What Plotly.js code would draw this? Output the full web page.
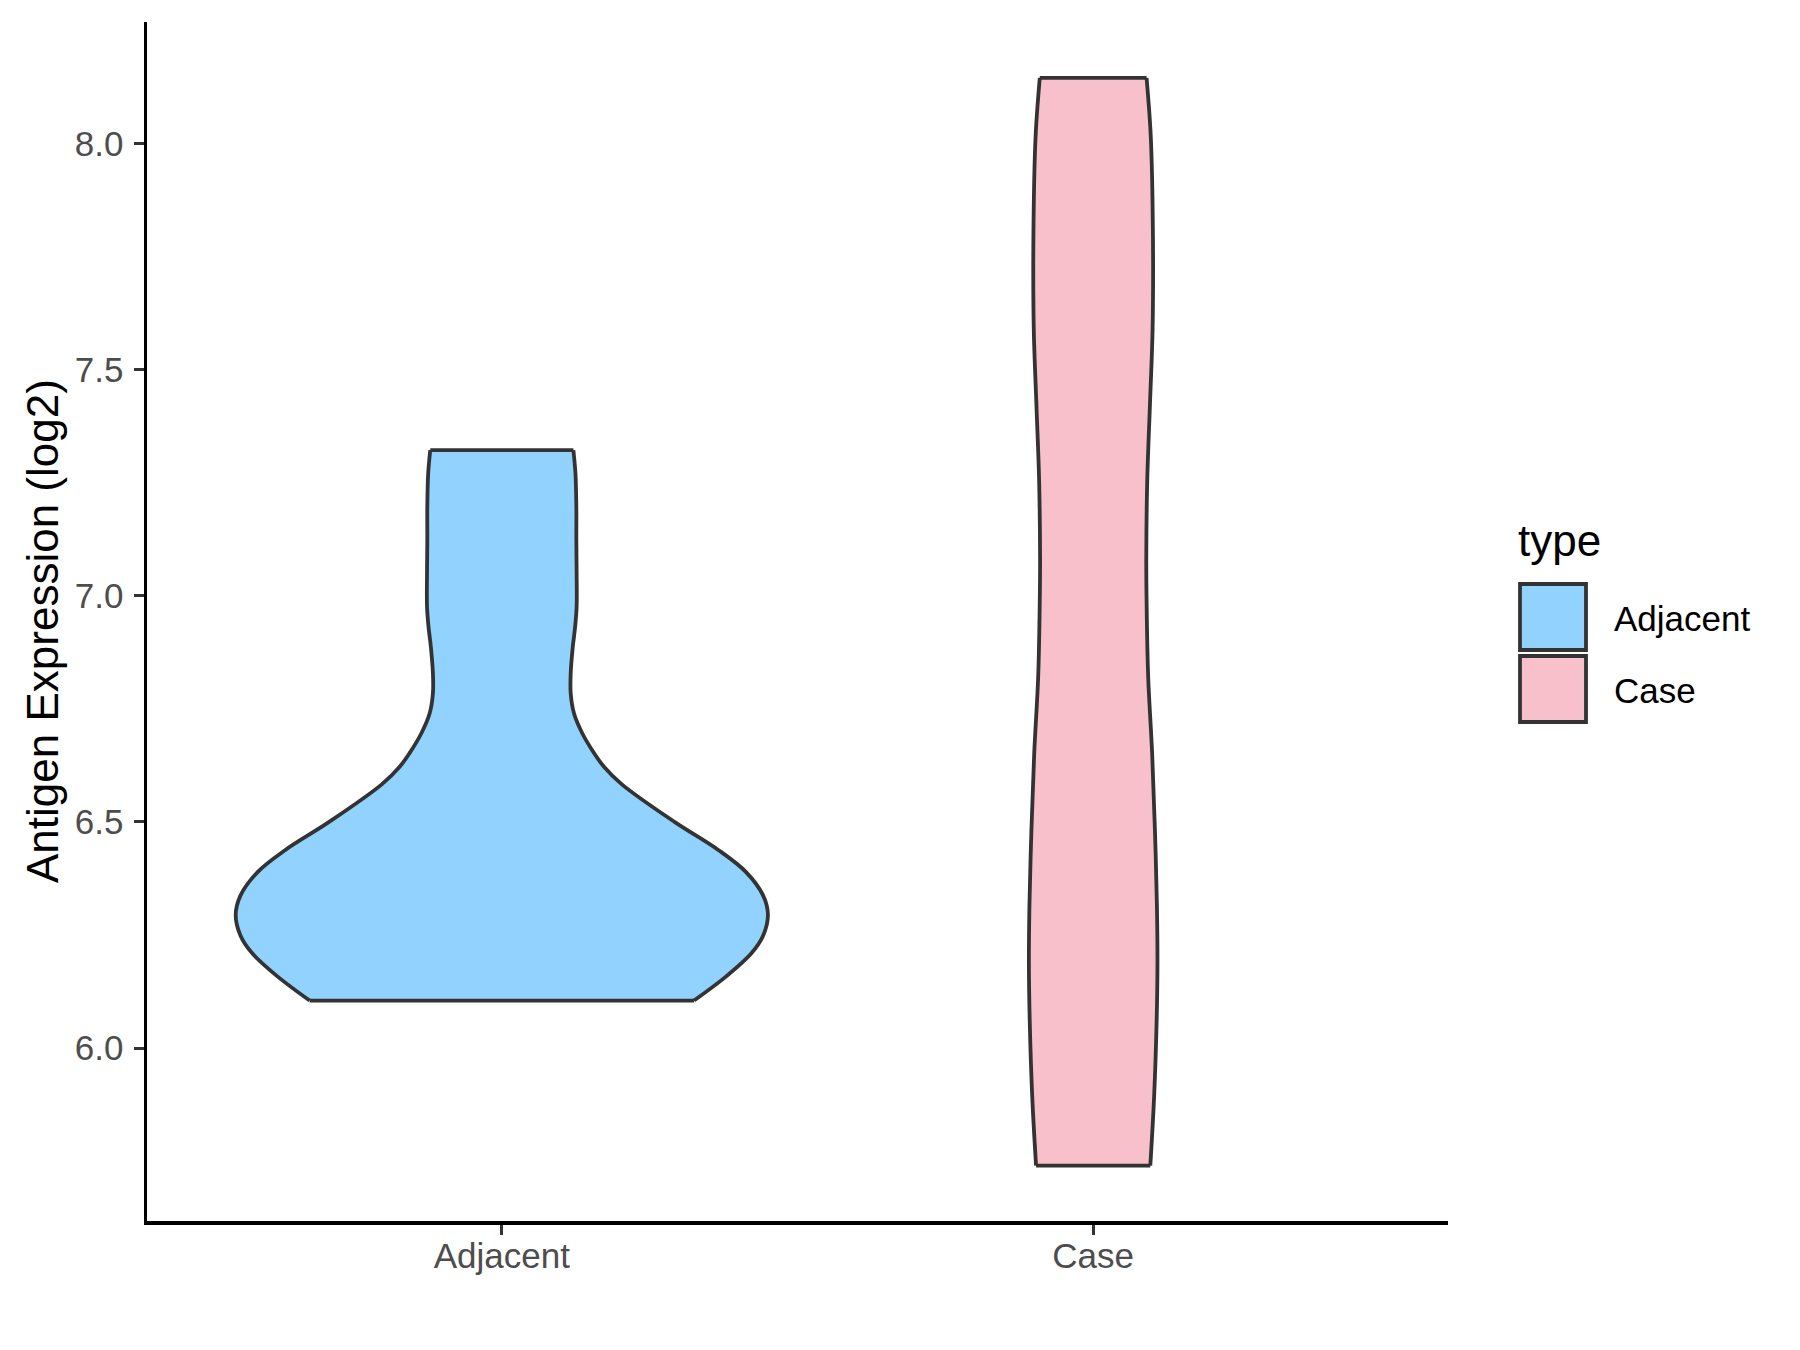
<!DOCTYPE html>
<html>
<head>
<meta charset="utf-8">
<script src="https://cdn.plot.ly/plotly-3.0.1.min.js"></script>
<style>
  html, body { margin: 0; padding: 0; background: #ffffff; }
  #chart { width: 1800px; height: 1350px; }
</style>
</head>
<body>
<div id="chart"></div>
<script>
// ---- data ----
const categories = ['Adjacent', 'Case'];

// Adjacent violin: expression levels and half-widths (density, in category units)
const adjY  = [6.105, 6.159, 6.21, 6.249, 6.294, 6.337, 6.389, 6.438, 6.50, 6.583, 6.622, 6.652, 6.696, 6.74, 6.784, 6.829, 6.887, 6.932, 6.976, 7.05, 7.123, 7.197, 7.271, 7.322];
const adjHW = [0.325, 0.380, 0.4224, 0.442, 0.450, 0.442, 0.413, 0.366, 0.292, 0.203, 0.1727, 0.156, 0.136, 0.122, 0.1165, 0.1165, 0.120, 0.124, 0.1265, 0.1265, 0.126, 0.126, 0.1245, 0.121];

// Case violin
const caseY  = [5.74, 5.891, 6.06, 6.187, 6.314, 6.483, 6.652, 6.821, 6.99, 7.085, 7.254, 7.423, 7.592, 7.804, 8.015, 8.145];
const caseHW = [0.0966, 0.103, 0.1073, 0.1087, 0.1078, 0.1044, 0.0997, 0.093, 0.0903, 0.0898, 0.0914, 0.096, 0.1005, 0.101, 0.0974, 0.0903];

const yTickVals = [6.0, 6.5, 7.0, 7.5, 8.0];
const yTitle = 'Antigen Expression (log2)';
const legendTitle = 'type';

// ---- styles ----
const fillColors = ['#92D2FE', '#F7C0CB'];
const outline = '#333333';
const font = 'Arial, "Liberation Sans", Helvetica, sans-serif';

const series = [
  {y: adjY, hw: adjHW},
  {y: caseY, hw: caseHW}
];

const traces = [];
series.forEach((s, i) => {
  const n = s.y.length;
  traces.push({
    x: s.y.map((v, k) => i - s.hw[k]), y: s.y,
    mode: 'lines', line: {shape: 'spline', smoothing: 1, color: outline, width: 3.8},
    showlegend: false, hoverinfo: 'skip', name: categories[i]
  });
  traces.push({
    x: s.y.map((v, k) => i + s.hw[k]), y: s.y,
    mode: 'lines', line: {shape: 'spline', smoothing: 1, color: outline, width: 3.8},
    fill: 'tonextx', fillcolor: fillColors[i],
    showlegend: false, hoverinfo: 'skip', name: categories[i]
  });
  traces.push({
    x: [i - s.hw[0], i + s.hw[0], null, i - s.hw[n - 1], i + s.hw[n - 1]],
    y: [s.y[0], s.y[0], null, s.y[n - 1], s.y[n - 1]],
    mode: 'lines', line: {color: outline, width: 3.8},
    showlegend: false, hoverinfo: 'skip', name: categories[i]
  });
});

// plot area in pixels (for legend placement)
const L = 147, R = 1448, T = 22, B = 1221;
const px = v => (v - L) / (R - L);
const py = v => (B - v) / (B - T);

const shapes = [];
const annotations = [];
// y axis title
annotations.push({
  text: yTitle, xref: 'paper', yref: 'paper', x: px(42), y: py(631),
  xanchor: 'center', yanchor: 'middle', textangle: -90, showarrow: false,
  font: {family: font, size: 44, color: '#000000'}
});
// legend
annotations.push({
  text: legendTitle, xref: 'paper', yref: 'paper', x: px(1516), y: py(540),
  xanchor: 'left', yanchor: 'middle', showarrow: false,
  font: {family: font, size: 44, color: '#000000'}
});
categories.forEach((c, i) => {
  const top = 583 + i * 72;
  shapes.push({
    type: 'rect', xref: 'paper', yref: 'paper',
    x0: px(1520), x1: px(1586), y0: py(top + 1), y1: py(top + 67),
    fillcolor: fillColors[i], line: {color: outline, width: 3.8}
  });
  annotations.push({
    text: c, xref: 'paper', yref: 'paper', x: px(1612), y: py(top + 35),
    xanchor: 'left', yanchor: 'middle', showarrow: false,
    font: {family: font, size: 35, color: '#000000'}
  });
});

const layout = {
  width: 1800, height: 1350,
  paper_bgcolor: '#ffffff', plot_bgcolor: '#ffffff',
  margin: {l: L, r: 1800 - R, t: T, b: 1350 - B, pad: 0},
  showlegend: false,
  xaxis: {
    range: [-0.6, 1.6], tickvals: categories.map((c, i) => i), ticktext: categories,
    showgrid: false, zeroline: false, showline: true, linecolor: '#000000', linewidth: 3.5,
    ticks: 'outside', ticklen: 10, tickwidth: 3, tickcolor: '#333333',
    ticklabelstandoff: -9,
    tickfont: {family: font, size: 35, color: '#4D4D4D'}, fixedrange: true
  },
  yaxis: {
    range: [5.6175, 8.2687], tickvals: yTickVals, ticktext: yTickVals.map(v => v.toFixed(1)),
    showgrid: false, zeroline: false, showline: true, linecolor: '#000000', linewidth: 3.5,
    ticks: 'outside', ticklen: 10, tickwidth: 3, tickcolor: '#333333',
    ticklabelstandoff: 3,
    tickfont: {family: font, size: 35, color: '#4D4D4D'}, fixedrange: true
  },
  shapes: shapes,
  annotations: annotations
};

Plotly.newPlot('chart', traces, layout, {displayModeBar: false, staticPlot: true});
</script>
</body>
</html>
